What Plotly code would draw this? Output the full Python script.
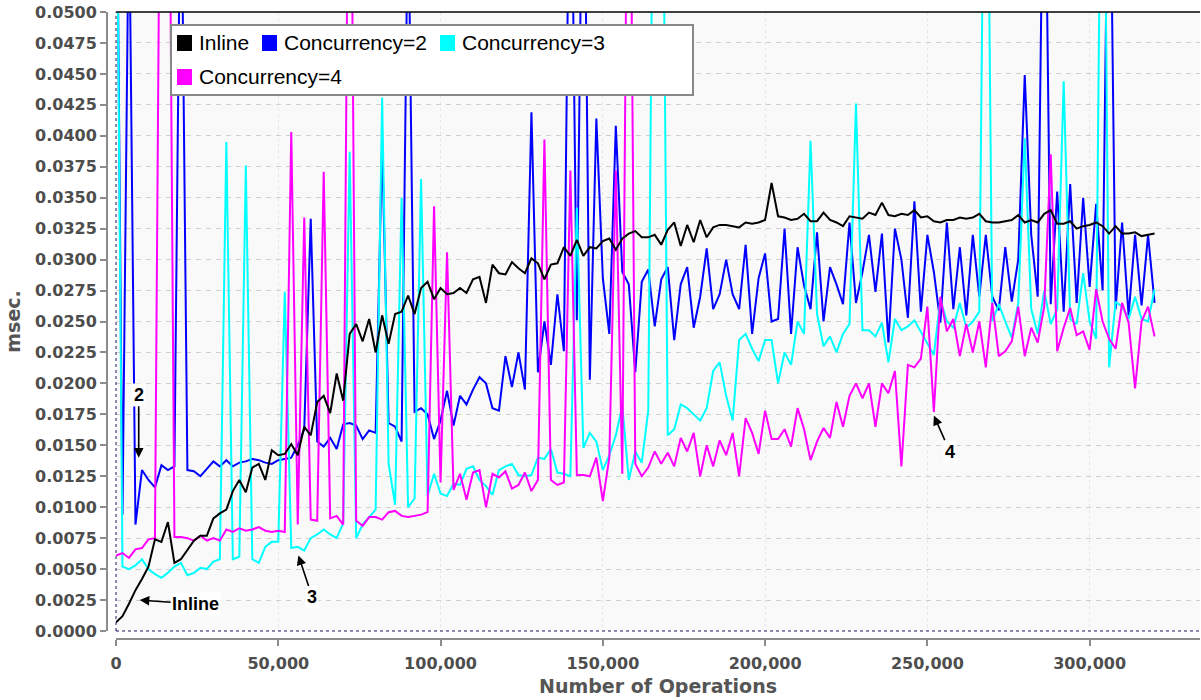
import plotly.graph_objects as go

# ---------------- data ----------------
ops = list(range(0, 320001, 2000))  # Number of Operations (sampled every 2,000)

inline = [
    0.0007, 0.0012, 0.0022, 0.0033, 0.0042, 0.0052, 0.0074, 0.0072, 0.0088, 0.0055,
    0.0058, 0.0065, 0.0073, 0.0077, 0.0077, 0.0091, 0.0095, 0.0098, 0.0113, 0.0122,
    0.0112, 0.0132, 0.0135, 0.0122, 0.0146, 0.0142, 0.0143, 0.0151, 0.0142, 0.0165,
    0.0158, 0.0185, 0.0190, 0.0176, 0.0208, 0.0186, 0.0240, 0.0248, 0.0234, 0.0252,
    0.0225, 0.0255, 0.0232, 0.0256, 0.0258, 0.0271, 0.0256, 0.0277, 0.0282, 0.0268,
    0.0277, 0.0272, 0.0273, 0.0277, 0.0273, 0.0284, 0.0286, 0.0265, 0.0296, 0.0289,
    0.0288, 0.0298, 0.0293, 0.0289, 0.0301, 0.0297, 0.0284, 0.0296, 0.0297, 0.0310,
    0.0303, 0.0316, 0.0303, 0.0310, 0.0309, 0.0315, 0.0317, 0.0308, 0.0317, 0.0321,
    0.0323, 0.0318, 0.0318, 0.0320, 0.0312, 0.0324, 0.0330, 0.0311, 0.0328, 0.0314,
    0.0332, 0.0318, 0.0326, 0.0328, 0.0328, 0.0327, 0.0326, 0.0330, 0.0329, 0.0330,
    0.0332, 0.0362, 0.0335, 0.0334, 0.0332, 0.0333, 0.0337, 0.0331, 0.0331, 0.0338,
    0.0332, 0.0330, 0.0327, 0.0335, 0.0334, 0.0333, 0.0338, 0.0336, 0.0346, 0.0336,
    0.0335, 0.0337, 0.0336, 0.0340, 0.0334, 0.0335, 0.0331, 0.0330, 0.0332, 0.0332,
    0.0334, 0.0333, 0.0334, 0.0337, 0.0331, 0.0330, 0.0330, 0.0331, 0.0332, 0.0336,
    0.0330, 0.0332, 0.0330, 0.0337, 0.0340, 0.0329, 0.0329, 0.0331, 0.0325, 0.0327,
    0.0328, 0.0330, 0.0327, 0.0321, 0.0327, 0.0321, 0.0321, 0.0322, 0.0319, 0.0320,
    0.0321,
]

conc2 = [
    0.0700, 0.0094, 0.0600, 0.0086, 0.0130, 0.0122, 0.0116, 0.0134, 0.0130, 0.0133,
    0.0650, 0.0130, 0.0129, 0.0125, 0.0131, 0.0137, 0.0133, 0.0138, 0.0133, 0.0136,
    0.0137, 0.0139, 0.0138, 0.0136, 0.0135, 0.0138, 0.0139, 0.0140, 0.0150, 0.0163,
    0.0333, 0.0153, 0.0149, 0.0156, 0.0147, 0.0167, 0.0168, 0.0166, 0.0155, 0.0162,
    0.0160, 0.0395, 0.0168, 0.0165, 0.0153, 0.0600, 0.0177, 0.0180, 0.0175, 0.0155,
    0.0170, 0.0194, 0.0166, 0.0190, 0.0183, 0.0195, 0.0205, 0.0200, 0.0180, 0.0178,
    0.0222, 0.0197, 0.0225, 0.0195, 0.0419, 0.0209, 0.0250, 0.0215, 0.0272, 0.0226,
    0.0700, 0.0251, 0.0700, 0.0203, 0.0414, 0.0285, 0.0240, 0.0408, 0.0290, 0.0280,
    0.0209, 0.0282, 0.0292, 0.0246, 0.0284, 0.0294, 0.0235, 0.0280, 0.0294, 0.0245,
    0.0270, 0.0309, 0.0260, 0.0272, 0.0300, 0.0272, 0.0260, 0.0312, 0.0240, 0.0285,
    0.0305, 0.0250, 0.0252, 0.0325, 0.0240, 0.0310, 0.0279, 0.0260, 0.0322, 0.0250,
    0.0294, 0.0280, 0.0264, 0.0330, 0.0265, 0.0290, 0.0320, 0.0274, 0.0321, 0.0233,
    0.0325, 0.0300, 0.0253, 0.0347, 0.0258, 0.0320, 0.0290, 0.0249, 0.0330, 0.0260,
    0.0310, 0.0255, 0.0320, 0.0270, 0.0320, 0.0270, 0.0259, 0.0310, 0.0266, 0.0300,
    0.0449, 0.0320, 0.0270, 0.0700, 0.0264, 0.0355, 0.0258, 0.0361, 0.0265, 0.0350,
    0.0278, 0.0345, 0.0275, 0.0700, 0.0260, 0.0330, 0.0255, 0.0320, 0.0263, 0.0320,
    0.0265,
]

conc3 = [
    0.0700, 0.0052, 0.0050, 0.0053, 0.0058, 0.0050, 0.0046, 0.0043, 0.0047, 0.0052,
    0.0055, 0.0045, 0.0047, 0.0051, 0.0050, 0.0056, 0.0058, 0.0395, 0.0058, 0.0060,
    0.0376, 0.0058, 0.0055, 0.0068, 0.0072, 0.0072, 0.0274, 0.0067, 0.0068, 0.0065,
    0.0075, 0.0078, 0.0082, 0.0078, 0.0075, 0.0087, 0.0387, 0.0075, 0.0086, 0.0092,
    0.0098, 0.0431, 0.0135, 0.0102, 0.0350, 0.0100, 0.0107, 0.0365, 0.0109, 0.0127,
    0.0111, 0.0109, 0.0119, 0.0118, 0.0131, 0.0133, 0.0122, 0.0117, 0.0110, 0.0130,
    0.0133, 0.0135, 0.0126, 0.0125, 0.0126, 0.0140, 0.0139, 0.0147, 0.0128, 0.0127,
    0.0125, 0.0342, 0.0148, 0.0160, 0.0153, 0.0130, 0.0142, 0.0158, 0.0182, 0.0122,
    0.0145, 0.0136, 0.0178, 0.0800, 0.0800, 0.0158, 0.0163, 0.0183, 0.0180, 0.0175,
    0.0170, 0.0180, 0.0210, 0.0217, 0.0190, 0.0170, 0.0235, 0.0240, 0.0228, 0.0218,
    0.0235, 0.0235, 0.0200, 0.0225, 0.0215, 0.0250, 0.0240, 0.0396, 0.0256, 0.0230,
    0.0238, 0.0225, 0.0240, 0.0248, 0.0426, 0.0243, 0.0243, 0.0238, 0.0249, 0.0217,
    0.0252, 0.0243, 0.0246, 0.0251, 0.0242, 0.0233, 0.0223, 0.0268, 0.0250, 0.0245,
    0.0265, 0.0245, 0.0250, 0.0258, 0.0800, 0.0250, 0.0264, 0.0250, 0.0237, 0.0265,
    0.0398, 0.0260, 0.0240, 0.0275, 0.0248, 0.0260, 0.0444, 0.0252, 0.0248, 0.0289,
    0.0250, 0.0236, 0.0800, 0.0213, 0.0266, 0.0262, 0.0252, 0.0270, 0.0252, 0.0250,
    0.0276,
]

conc4 = [
    0.0061, 0.0063, 0.0059, 0.0066, 0.0067, 0.0074, 0.0075, 0.0800, 0.0800, 0.0076,
    0.0076, 0.0075, 0.0073, 0.0077, 0.0073, 0.0075, 0.0073, 0.0082, 0.0080, 0.0083,
    0.0081, 0.0082, 0.0084, 0.0081, 0.0080, 0.0081, 0.0080, 0.0403, 0.0086, 0.0334,
    0.0090, 0.0089, 0.0371, 0.0091, 0.0093, 0.0086, 0.0800, 0.0089, 0.0085, 0.0092,
    0.0092, 0.0090, 0.0096, 0.0097, 0.0093, 0.0092, 0.0093, 0.0094, 0.0096, 0.0343,
    0.0120, 0.0306, 0.0114, 0.0127, 0.0106, 0.0128, 0.0130, 0.0100, 0.0127, 0.0124,
    0.0129, 0.0115, 0.0118, 0.0128, 0.0113, 0.0122, 0.0397, 0.0122, 0.0118, 0.0120,
    0.0372, 0.0126, 0.0126, 0.0125, 0.0140, 0.0105, 0.0140, 0.0372, 0.0127, 0.0800,
    0.0135, 0.0125, 0.0132, 0.0145, 0.0135, 0.0144, 0.0133, 0.0156, 0.0145, 0.0160,
    0.0125, 0.0150, 0.0133, 0.0154, 0.0142, 0.0160, 0.0125, 0.0172, 0.0160, 0.0143,
    0.0178, 0.0155, 0.0155, 0.0163, 0.0149, 0.0180, 0.0163, 0.0138, 0.0153, 0.0164,
    0.0156, 0.0185, 0.0165, 0.0190, 0.0200, 0.0188, 0.0200, 0.0165, 0.0200, 0.0192,
    0.0210, 0.0133, 0.0215, 0.0213, 0.0220, 0.0262, 0.0177, 0.0270, 0.0242, 0.0252,
    0.0222, 0.0248, 0.0225, 0.0250, 0.0213, 0.0265, 0.0222, 0.0226, 0.0234, 0.0262,
    0.0222, 0.0245, 0.0233, 0.0262, 0.0385, 0.0226, 0.0245, 0.0261, 0.0239, 0.0242,
    0.0227, 0.0276, 0.0250, 0.0236, 0.0228, 0.0265, 0.0249, 0.0196, 0.0250, 0.0262,
    0.0238,
]

series_names = ["Inline", "Concurrency=2", "Concurrency=3", "Concurrency=4"]
series_values = [inline, conc2, conc3, conc4]
series_colors = ["#000000", "#0000ff", "#00ffff", "#ff00ff"]
draw_order = [1, 2, 3, 0]  # blue, cyan, magenta, then black on top

y_ticks = [i * 0.0025 for i in range(21)]
x_ticks = [0, 50000, 100000, 150000, 200000, 250000, 300000]

# ---------------- layout geometry (pixels) ----------------
W, H = 1201, 700
ML, MR, MT, MB = 107, 1, 12, 61


def px_x(px):
    return (px - ML) / (W - ML - MR)


def px_y(py):
    return (H - MB - py) / (H - MT - MB)


TICK_FONT = dict(family="DejaVu Sans, Verdana, sans-serif", size=16, color="#4d4d4d", weight="bold")
TITLE_FONT = dict(family="DejaVu Sans, Verdana, sans-serif", size=19, color="#555555", weight="bold")
LEG_FONT = dict(family="Liberation Sans, Arial, sans-serif", size=21, color="#000000")
ANN_FONT = dict(family="Liberation Sans, Arial, sans-serif", size=18, color="#000000", weight="bold")

fig = go.Figure()
for k in draw_order:
    fig.add_trace(go.Scatter(
        x=ops, y=series_values[k], name=series_names[k], mode="lines",
        line=dict(color=series_colors[k], width=2),
        showlegend=False, hoverinfo="x+y+name",
    ))

shapes = []
# plot-area borders
shapes.append(dict(type="line", xref="x domain", yref="y domain", x0=0, x1=1, y0=1, y1=1,
                   line=dict(color="#000000", width=1.5), layer="above"))
shapes.append(dict(type="line", xref="x domain", yref="y domain", x0=0, x1=1, y0=0, y1=0,
                   line=dict(color="#1a1a66", width=1.2, dash="dot"), layer="above"))
shapes.append(dict(type="line", xref="x domain", yref="y domain", x0=0, x1=0, y0=0, y1=1,
                   line=dict(color="#1a1a66", width=1, dash="dot"), layer="above"))

# legend box (drawn manually to match the two-row layout)
shapes.append(dict(type="rect", xref="paper", yref="paper",
                   x0=px_x(171), x1=px_x(693), y0=px_y(95), y1=px_y(25),
                   fillcolor="#ffffff", line=dict(color="#878787", width=2), layer="above"))
legend_slots = [(177, 43), (262, 43), (440, 43), (177, 77)]  # square left px, row centre px
annotations = []
for name, color, (sx, cy) in zip(series_names, series_colors, legend_slots):
    shapes.append(dict(type="rect", xref="paper", yref="paper",
                       x0=px_x(sx), x1=px_x(sx + 15), y0=px_y(cy + 8), y1=px_y(cy - 8),
                       fillcolor=color, line=dict(width=0), layer="above"))
    annotations.append(dict(xref="paper", yref="paper", x=px_x(sx + 20), y=px_y(cy),
                            text=name, showarrow=False, xanchor="left", yanchor="middle",
                            font=LEG_FONT))

# pointer annotations
pointers = [
    ("2", 7000, 0.0140, 0, -63),
    ("Inline", 7300, 0.0025, 56, 4),
    ("3", 56200, 0.0061, 14, 42),
    ("4", 252000, 0.0174, 16, 36),
]
for text, x, y, ax, ay in pointers:
    annotations.append(dict(x=x, y=y, xref="x", yref="y", text=text, showarrow=True,
                            ax=ax, ay=ay, arrowhead=2, arrowsize=1.2, arrowwidth=1.6,
                            arrowcolor="#000000", font=ANN_FONT, bgcolor="#ffffff",
                            borderpad=1))

fig.update_layout(
    width=W, height=H,
    margin=dict(l=ML, r=MR, t=MT, b=MB, pad=0),
    paper_bgcolor="#ffffff", plot_bgcolor="#f9f9f9",
    showlegend=False,
    shapes=shapes, annotations=annotations,
    xaxis=dict(
        domain=[px_x(116), 1], anchor="free", position=0,
        range=[0, 334000], tickvals=x_ticks, tickformat=",d",
        showline=True, linecolor="#8c8c8c", linewidth=2,
        ticks="outside", ticklen=6, tickwidth=2, tickcolor="#8c8c8c",
        tickfont=TICK_FONT, ticklabelstandoff=4,
        showgrid=True, gridcolor="#e6e6e6", griddash="dot", gridwidth=1,
        zeroline=False, automargin=False,
        title=dict(text="Number of Operations", font=TITLE_FONT, standoff=6),
    ),
    yaxis=dict(
        domain=[px_y(631), 1], anchor="free", position=0,
        range=[0, 0.05], tickvals=y_ticks, tickformat=".4f",
        showline=True, linecolor="#8c8c8c", linewidth=2,
        ticks="outside", ticklen=6, tickwidth=2, tickcolor="#8c8c8c",
        tickfont=TICK_FONT,
        showgrid=True, gridcolor="#cfcfcf", griddash="5px,5px", gridwidth=1,
        zeroline=False, automargin=False,
        title=dict(text="msec.", font=TITLE_FONT, standoff=8),
    ),
)

fig.write_html(
    "out.html",
    config={"displayModeBar": False},
    post_script="document.body.style.margin='0';document.body.style.overflow='hidden';",
)
